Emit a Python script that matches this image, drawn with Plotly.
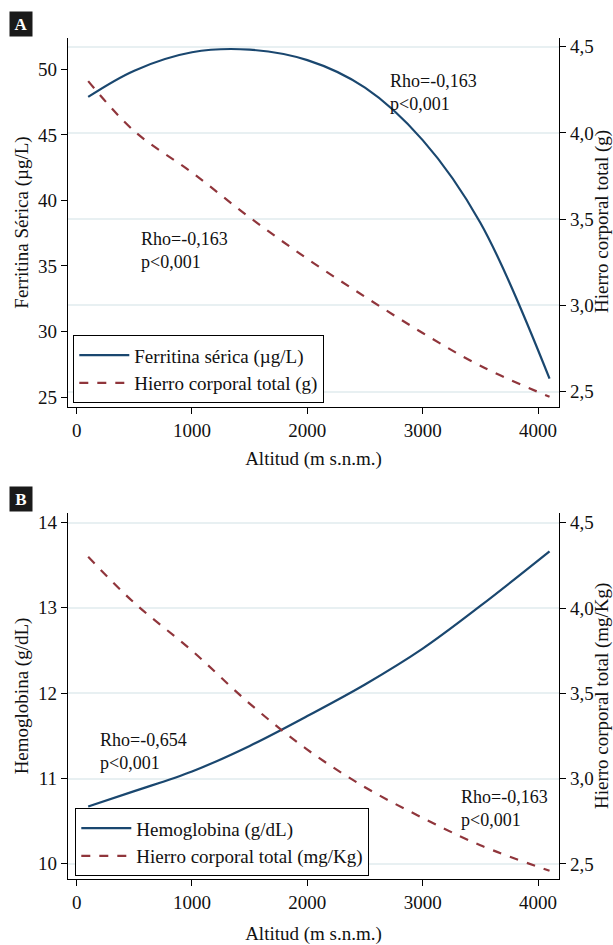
import plotly.graph_objects as go

# ---------------- data ----------------
altitud_a = [100, 500, 1000, 1500, 2000, 2500, 3000, 3500, 4100]
ferritina = [47.9, 49.9, 51.3, 51.5, 50.7, 48.6, 44.6, 38.3, 26.4]

altitud_hct = [100, 500, 1000, 1500, 2000, 2500, 3000, 3500, 4100]
hierro_a = [4.30, 4.01, 3.77, 3.51, 3.27, 3.05, 2.84, 2.65, 2.47]

altitud_b = [100, 500, 1000, 1500, 2000, 2500, 3000, 3500, 4100]
hemoglobina = [10.67, 10.85, 11.08, 11.38, 11.73, 12.10, 12.52, 13.02, 13.66]
hierro_b = [4.30, 4.03, 3.75, 3.44, 3.17, 2.95, 2.77, 2.61, 2.46]

x_ticks = [0, 1000, 2000, 3000, 4000]
x_ticktext = ["0", "1000", "2000", "3000", "4000"]
ya_ticks = [25, 30, 35, 40, 45, 50]
yb_ticks = [10, 11, 12, 13, 14]
y2_ticks = [2.5, 3.0, 3.5, 4.0, 4.5]
y2_ticktext = ["2,5", "3,0", "3,5", "4,0", "4,5"]

NAVY = "#1a476f"
MAROON = "#90353b"
TXT = "#111111"
GRID = "#e8f0f2"
FONT = "Liberation Serif"

fig = go.Figure()

fig.add_trace(go.Scatter(x=altitud_a, y=ferritina, mode="lines", name="Ferritina sérica (µg/L)",
                         line=dict(color=NAVY, width=2.2, shape="spline"), xaxis="x", yaxis="y",
                         legend="legend"))
fig.add_trace(go.Scatter(x=altitud_hct, y=hierro_a, mode="lines", name="Hierro corporal total (g)",
                         line=dict(color=MAROON, width=2.2, dash="dash", shape="spline"), xaxis="x", yaxis="y2",
                         legend="legend"))
fig.add_trace(go.Scatter(x=altitud_b, y=hemoglobina, mode="lines", name="Hemoglobina (g/dL)",
                         line=dict(color=NAVY, width=2.2, shape="spline"), xaxis="x2", yaxis="y3",
                         legend="legend2"))
fig.add_trace(go.Scatter(x=altitud_b, y=hierro_b, mode="lines", name="Hierro corporal total (mg/Kg)",
                         line=dict(color=MAROON, width=2.2, dash="dash", shape="spline"), xaxis="x2", yaxis="y4",
                         legend="legend2"))

# body margin is removed by a small post script, so figure pixels = page pixels
OFF = 0
W, H = 613, 945

def px(x):
    return (x - OFF) / W

def py(y):
    return 1 - (y - OFF) / H

xdom = [px(68), px(559)]
doma = [py(407), py(38)]
domb = [py(879), py(513)]

TICKF = dict(size=19, color=TXT, family=FONT)
TITLEF = dict(size=19, color=TXT, family=FONT)

axis_common = dict(showline=True, linecolor="black", linewidth=1.3, ticks="outside",
                   ticklen=6, tickwidth=1.3, tickcolor="black", zeroline=False,
                   automargin=False, tickfont=TICKF)

def xax(anchor, standoff):
    return dict(axis_common, domain=xdom, anchor=anchor, range=[-75, 4182],
                tickvals=x_ticks, ticktext=x_ticktext, showgrid=False,
                title=dict(text="Altitud (m s.n.m.)", font=TITLEF, standoff=standoff))

def yleft(anchor, dom, rng, ticks, title):
    return dict(axis_common, domain=dom, anchor=anchor, range=rng, tickvals=ticks,
                ticktext=[str(t) for t in ticks], showgrid=False,
                title=dict(text=title, font=TITLEF, standoff=4))

def yright(anchor, overlay, rng):
    return dict(axis_common, anchor=anchor, overlaying=overlay, side="right", range=rng,
                tickvals=y2_ticks, ticktext=y2_ticktext, showgrid=True, gridcolor=GRID, gridwidth=2)

LEGF = dict(size=19, color=TXT, family=FONT)

fig.update_layout(
    width=W, height=H, margin=dict(l=0, r=0, t=0, b=0, autoexpand=False),
    paper_bgcolor="white", plot_bgcolor="white",
    font=dict(family=FONT, color=TXT, size=19),
    xaxis=xax("y", 11),
    xaxis2=xax("y3", 14),
    yaxis=yleft("x", doma, [24.24, 52.39], ya_ticks, "Ferritina Sérica (µg/L)"),
    yaxis2=yright("x", "y", [2.411, 4.55]),
    yaxis3=yleft("x2", domb, [9.82, 14.11], yb_ticks, "Hemoglobina (g/dL)"),
    yaxis4=yright("x2", "y3", [2.412, 4.557]),
    legend=dict(x=px(73), y=py(403), xanchor="left", yanchor="bottom",
                bordercolor="black", borderwidth=1.3, bgcolor="white",
                font=LEGF, tracegroupgap=0, itemwidth=50),
    legend2=dict(x=px(75), y=py(876), xanchor="left", yanchor="bottom",
                 bordercolor="black", borderwidth=1.3, bgcolor="white",
                 font=LEGF, tracegroupgap=0, itemwidth=50),
    showlegend=True,
)

# right-axis titles
for title, cy in [("Hierro corporal total (g)", 222), ("Hierro corporal total (mg/Kg)", 696)]:
    fig.add_annotation(x=px(602), y=py(cy), xref="paper", yref="paper", text=title, textangle=-90,
                       showarrow=False, xanchor="center", yanchor="middle", font=TITLEF)

ann_font = dict(size=18, color=TXT, family=FONT)
fig.add_annotation(x=2699, y=48.27, xref="x", yref="y", text="Rho=-0,163<br>p&lt;0,001",
                   showarrow=False, xanchor="left", yanchor="middle", align="left", font=ann_font)
fig.add_annotation(x=540, y=36.2, xref="x", yref="y", text="Rho=-0,163<br>p&lt;0,001",
                   showarrow=False, xanchor="left", yanchor="middle", align="left", font=ann_font)
fig.add_annotation(x=188, y=11.31, xref="x2", yref="y3", text="Rho=-0,654<br>p&lt;0,001",
                   showarrow=False, xanchor="left", yanchor="middle", align="left", font=ann_font)
fig.add_annotation(x=3315, y=10.65, xref="x2", yref="y3", text="Rho=-0,163<br>p&lt;0,001",
                   showarrow=False, xanchor="left", yanchor="middle", align="left", font=ann_font)

for lab, cy in [("A", 24), ("B", 499)]:
    fig.add_annotation(x=px(21), y=py(cy), xref="paper", yref="paper", text="<b>" + lab + "</b>",
                       showarrow=False, xanchor="center", yanchor="middle", bgcolor="#1a1a1a",
                       width=20, height=22, font=dict(size=17, color="white", family=FONT))

fig.write_html("out.html", config={"displayModeBar": False},
               post_script="document.body.style.margin='0px';document.body.style.overflow='hidden';")
